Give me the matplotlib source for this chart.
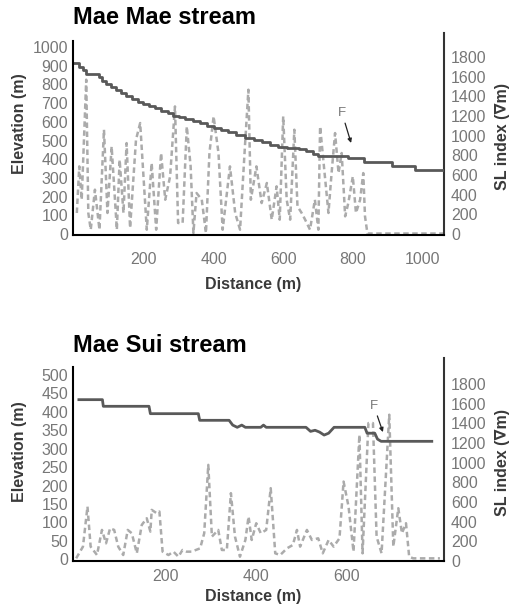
import numpy as np
import matplotlib
matplotlib.use("Agg")
import matplotlib.pyplot as plt

plt.rcParams['font.family'] = ['Liberation Sans', 'DejaVu Sans']

# ---- Mae Mae stream ----
mm_dist = [0, 12, 24, 34, 72, 80, 92, 106, 120, 134, 148, 165, 182, 198, 215,
           232, 250, 268, 282, 300, 318, 340, 362, 380, 400, 420, 442, 465,
           490, 515, 540, 562, 586, 610, 645, 665, 685, 700, 785, 832, 914,
           980, 1062]
mm_elev = [912, 895, 878, 855, 838, 818, 800, 784, 768, 752, 736, 720, 706,
           695, 684, 672, 660, 645, 632, 624, 615, 604, 592, 576, 566, 556,
           544, 530, 514, 502, 492, 478, 466, 462, 455, 444, 430, 420, 405,
           387, 362, 342, 342]

mm_sl_dist = [7, 14, 21, 34, 40, 47, 59, 72, 85, 95, 107, 122, 130, 141, 150,
              160, 177, 189, 208, 222, 235, 249, 261, 275, 289, 298, 311, 323,
              334, 342, 351, 366, 378, 388, 400, 414, 426, 447, 462, 476, 490,
              500, 507, 523, 538, 553, 567, 581, 590, 600, 610, 620, 632, 641,
              653, 663, 677, 691, 701, 706, 717, 730, 739, 749, 759, 768, 778,
              787, 800, 809, 821, 830, 835, 842, 1062]
mm_sl = [214, 688, 349, 1570, 214, 44, 451, 44, 1061, 214, 891, 44, 756, 214,
         925, 61, 959, 1129, 44, 722, 44, 824, 349, 586, 1298, 112, 112, 1095,
         688, 10, 417, 349, 10, 824, 1197, 824, 44, 688, 214, 44, 891, 1468,
         349, 688, 315, 519, 146, 485, 146, 1197, 349, 146, 1061, 281, 214,
         146, 44, 349, 44, 1095, 688, 214, 620, 1027, 620, 824, 180, 315, 586,
         214, 349, 620, 180, 5, 5]

# ---- Mae Sui stream ----
ms_dist = [8, 60, 62, 163, 166, 272, 275, 340, 348, 358, 368, 376, 410, 416,
           422, 510, 520, 530, 540, 550, 560, 572, 640, 645, 662, 668, 676,
           690, 788]
ms_elev = [433, 433, 415, 415, 395, 395, 377, 377, 364, 358, 364, 358, 358,
           364, 358, 358, 347, 350, 345, 337, 342, 358, 358, 342, 342, 326,
           320, 320, 320]

ms_sl_dist = [2, 17, 27, 34, 48, 59, 68, 77, 86, 95, 106, 116, 125, 136, 147,
              158, 166, 169, 180, 186, 193, 206, 217, 228, 237, 246, 257, 276,
              285, 294, 302, 316, 324, 335, 344, 353, 364, 376, 383, 390, 400,
              410, 422, 432, 442, 453, 468, 481, 490, 497, 512, 523, 537, 547,
              560, 571, 584, 593, 604, 615, 628, 635, 648, 658, 666, 677, 694,
              703, 714, 722, 731, 738, 747, 806]
ms_sl = [27, 146, 554, 146, 61, 316, 180, 333, 316, 146, 61, 316, 282, 78,
         367, 435, 299, 520, 486, 503, 95, 61, 95, 44, 112, 95, 95, 129, 282,
         978, 248, 316, 112, 112, 690, 248, 44, 214, 452, 214, 384, 282, 316,
         741, 78, 61, 129, 163, 316, 146, 316, 214, 231, 78, 214, 146, 231,
         808, 554, 95, 1284, 78, 1403, 1403, 248, 78, 1488, 146, 537, 282, 384,
         44, 27, 27]

W, H = 513, 610
fig = plt.figure(figsize=(W / 100, H / 100), dpi=100)

TICK_C = '#777777'
LAB_C = '#3a3a3a'
ELEV_C = '#595959'
SL_C = '#ababab'
TS = 11.5


def panel(rect, dist, elev, sl_dist, sl, xlim, ylim, ytop, yticks, y2lim,
          xticks, xpad, f_text, f_tip, stepped):
    ax = fig.add_axes(rect)
    ax2 = ax.twinx()
    ax2.plot(sl_dist, sl, color=SL_C, lw=1.8, ls=(0, (2.2, 1.4)))
    if stepped:
        ax.step(dist, elev, where='post', color=ELEV_C, lw=2)
    else:
        ax.plot(dist, elev, color=ELEV_C, lw=2)
    ax.set_zorder(ax2.get_zorder() + 1)
    ax.patch.set_visible(False)

    ax.set_xlim(*xlim)
    ax.set_ylim(*ylim)
    ax2.set_ylim(*y2lim)
    ax.set_xticks(xticks)
    ax.set_yticks(yticks)
    ax2.set_yticks(np.arange(0, 2000, 200))

    for a in (ax, ax2):
        a.spines['top'].set_visible(False)
    ax.spines['right'].set_visible(False)
    ax2.spines['left'].set_visible(False)
    ax2.spines['bottom'].set_visible(False)
    ax.spines['left'].set_bounds(ylim[0], ytop)
    ax.spines['left'].set_linewidth(1.5)
    ax.spines['bottom'].set_linewidth(1.5)
    ax2.spines['right'].set_linewidth(1.5)
    ax2.spines['right'].set_color('#333333')

    ax.tick_params(axis='y', length=0, pad=3.5, labelsize=TS, labelcolor=TICK_C)
    ax.tick_params(axis='x', length=0, pad=xpad, labelsize=TS, labelcolor=TICK_C)
    ax2.tick_params(axis='y', length=0, pad=5, labelsize=TS, labelcolor=TICK_C)

    ax.annotate('F', xy=f_tip, xytext=f_text, color='#777777', fontsize=9.5,
                ha='center', va='bottom',
                arrowprops=dict(arrowstyle='-|>', color='#222222', lw=0.9,
                                mutation_scale=6, shrinkA=1, shrinkB=0))
    return ax, ax2


panel([73 / W, 1 - 235 / H, 371 / W, 202 / H], mm_dist, mm_elev,
      mm_sl_dist, mm_sl, (-4, 1062), (-5, 1075), 1030,
      np.arange(0, 1001, 100), (-10, 2045), [200, 400, 600, 800, 1000], 12,
      (769, 615), (795, 487), True)

panel([73 / W, 1 - 561 / H, 371 / W, 203 / H], ms_dist, ms_elev,
      ms_sl_dist, ms_sl, (-5, 815), (-4.6, 546), 521,
      np.arange(0, 501, 50), (0, 2065), [200, 400, 600], 6,
      (660, 400), (680, 345), False)

# titles and axis labels
fig.text(73 / W, 1 - 24 / H, 'Mae Mae stream', fontsize=17, fontweight='bold',
         va='baseline', ha='left')
fig.text(73 / W, 1 - 352 / H, 'Mae Sui stream', fontsize=17, fontweight='bold',
         va='baseline', ha='left')

for yc, ysl, yd in [(124, 136, 285), (452, 462, 597)]:
    fig.text(20 / W, 1 - yc / H, 'Elevation (m)', rotation=90, ha='center',
             va='center', fontsize=11.5, fontweight='bold', color=LAB_C)
    fig.text(502 / W, 1 - ysl / H, 'SL index (\u2207m)', rotation=90,
             ha='center', va='center', fontsize=11.5, fontweight='bold',
             color=LAB_C)
    fig.text(253 / W, 1 - yd / H, 'Distance (m)', ha='center', va='center',
             fontsize=11.5, fontweight='bold', color=LAB_C)

fig.savefig('out.png', dpi=100)
